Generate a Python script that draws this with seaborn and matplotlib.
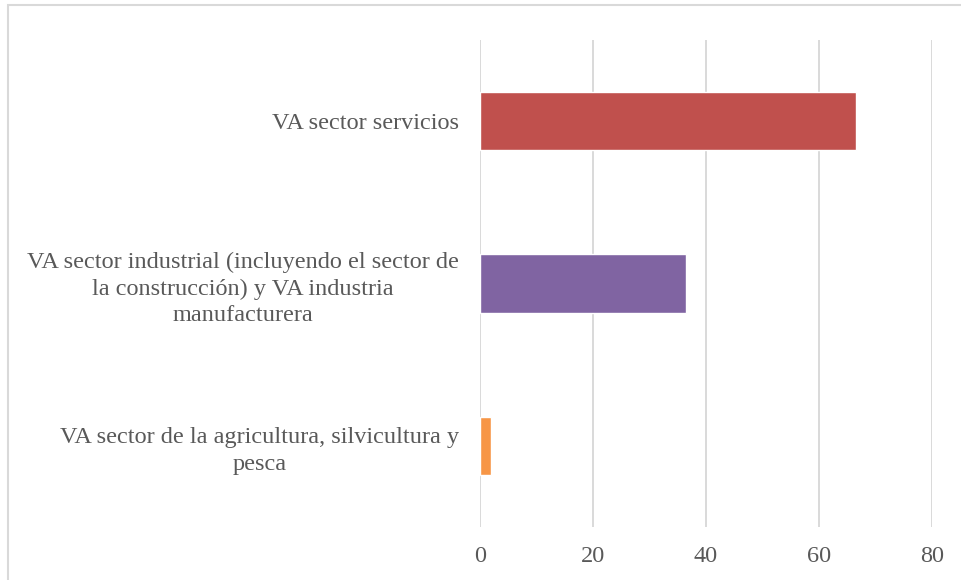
import pandas as pd
import seaborn as sns
import matplotlib.pyplot as plt
from matplotlib.patches import Rectangle

# --- Data ---
sectores = [
    "VA sector servicios",
    "VA sector industrial (incluyendo el sector de\nla construcción) y VA industria\nmanufacturera",
    "VA sector de la agricultura, silvicultura y\npesca",
]
valores = [66.5, 36.5, 2.0]
colores = ["#C0504D", "#8064A2", "#F79646"]
ticks_x = [0, 20, 40, 60, 80]

df = pd.DataFrame({"sector": sectores, "valor": valores})

sns.set_theme(style="white")
plt.rcParams["font.family"] = ["Liberation Serif", "DejaVu Serif"]

fig = plt.figure(figsize=(9.61, 5.80), dpi=100)
ax = fig.add_axes([0.4995, 0.0914, 0.4703, 0.8396])

sns.barplot(data=df, x="valor", y="sector", hue="sector", palette=colores,
            width=0.36, legend=False, ax=ax, saturation=1)

ax.set_xlim(0, 80)
ax.set_ylim(2.5, -0.5)
ax.set_xticks(ticks_x)
ax.set_xlabel("")
ax.set_ylabel("")
ax.grid(axis="x", color="#D9D9D9", linewidth=1.4)
ax.set_axisbelow(True)
for s in ax.spines.values():
    s.set_visible(False)
ax.tick_params(axis="both", length=0, labelsize=17.5, labelcolor="#595959")
ax.tick_params(axis="x", pad=14)
ax.tick_params(axis="y", pad=15)
for t in ax.get_yticklabels():
    t.set_multialignment("center")
    t.set_linespacing(1.36)

# --- Chart border ---
fig.patches.append(Rectangle((8 / 961, -0.05), 1.0, 1.05 - 5 / 580,
                             transform=fig.transFigure, fill=False,
                             edgecolor="#D9D9D9", linewidth=1.5))

fig.savefig("out.png", dpi=100)
